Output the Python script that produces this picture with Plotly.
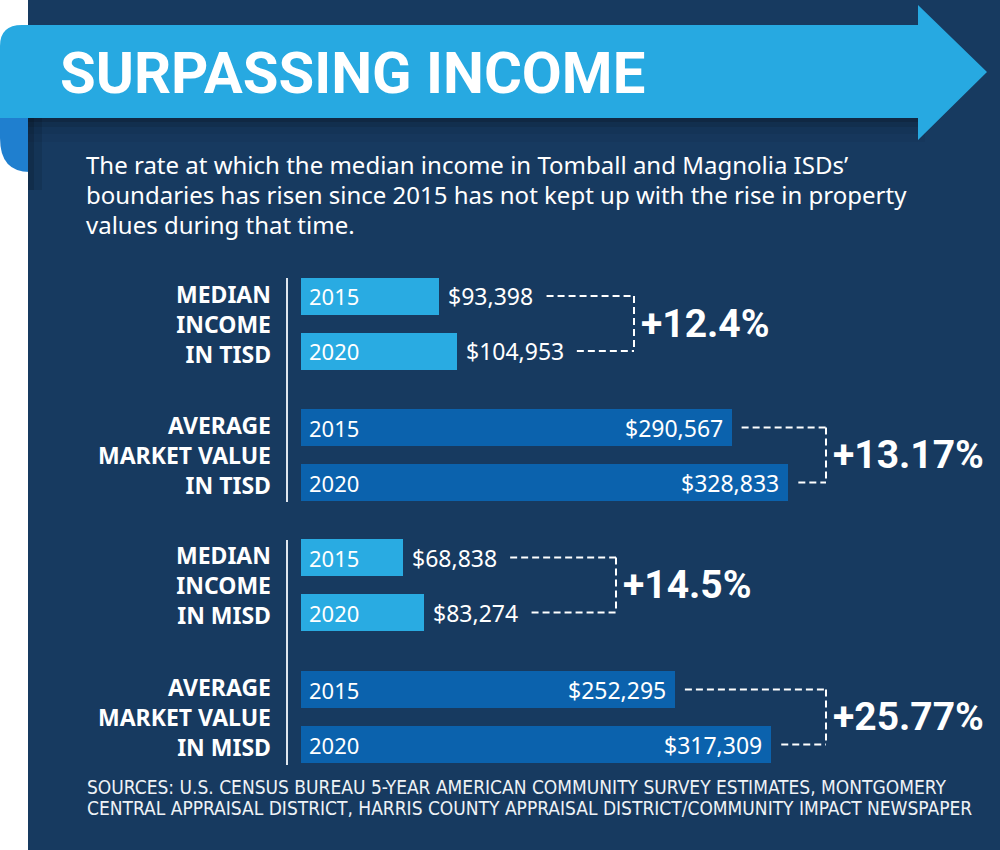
import plotly.graph_objects as go

# ---------------- data ----------------
group_labels = ["MEDIAN<br>INCOME<br>IN TISD",
                "AVERAGE<br>MARKET VALUE<br>IN TISD",
                "MEDIAN<br>INCOME<br>IN MISD",
                "AVERAGE<br>MARKET VALUE<br>IN MISD"]
group_kind = ["income", "market", "income", "market"]
years = ["2015", "2020"]
values_2015 = [93398, 290567, 68838, 252295]
values_2020 = [104953, 328833, 83274, 317309]
pct_change = ["+12.4%", "+13.17%", "+14.5%", "+25.77%"]

title_text = "SURPASSING INCOME"
subtitle_lines = ["The rate at which the median income in Tomball and Magnolia ISDs’",
                  "boundaries has risen since 2015 has not kept up with the rise in property",
                  "values during that time."]
source_lines = ["SOURCES: U.S. CENSUS BUREAU 5-YEAR AMERICAN COMMUNITY SURVEY ESTIMATES, MONTGOMERY",
                "CENTRAL APPRAISAL DISTRICT, HARRIS COUNTY APPRAISAL DISTRICT/COMMUNITY IMPACT NEWSPAPER"]

# ---------------- layout / style ----------------
W, H = 1000, 850
NAVY = "#173a60"
LIGHT = "#29abe2"
DARK = "#0b62ad"
BAND = "#27a9e1"
CURL = "#1f7fcf"
BODY_FONT = "Noto Sans"
HEAD_FONT = "Roboto"
SRC_FONT = ("Noto Sans ExtraCondensed, Noto Sans Condensed, Liberation Sans Narrow, "
            "DejaVu Sans Condensed, Roboto Condensed, sans-serif")

X0_PX = 301.0          # pixel where value 0 sits
SCALE = 0.001482       # pixels per dollar
group_center_px = [323.5, 455.1, 585.1, 717.1]
ROW_STEP = 55.0
bracket_px = [634, 826, 616, 826]
sep_lines_px = [(278, 502), (540, 765)]
SEP_X = 287


def px2x(p):
    return (p - X0_PX) / SCALE


def xp(x):
    return x / W


def yp(y):
    return 1 - y / H


def path(cmds):
    out = []
    for c in cmds:
        if isinstance(c, str):
            out.append(c)
        else:
            out.append(f"{xp(c[0]):.5f},{yp(c[1]):.5f}")
    return " ".join(out)


def label_width(s, size):
    # approximate advance width of a money label in the body font
    w = 0.0
    for ch in s:
        w += 0.27 if ch == "," else 0.572
    return w * size


fig = go.Figure()
shapes = []
annotations = []

# background panel + ribbon
shapes.append(dict(type="path", xref="paper", yref="paper", layer="below", line_width=0,
                   fillcolor=CURL,
                   path=path(["M", (30, 100), "L", (30, 172), "L", (30, 172),
                              "Q", (0, 172), (0, 138), "L", (0, 100), "Z"])))
shapes.append(dict(type="rect", xref="paper", yref="paper", layer="below", line_width=0,
                   fillcolor=NAVY, x0=xp(28), x1=1, y0=0, y1=1))
# soft shadow below ribbon
for (a, b, op) in [(118, 122, 0.30), (122, 127, 0.18), (127, 134, 0.09), (134, 142, 0.04)]:
    shapes.append(dict(type="rect", xref="paper", yref="paper", layer="below", line_width=0,
                       fillcolor=f"rgba(0,0,0,{op})", x0=xp(28), x1=xp(925), y0=yp(b), y1=yp(a)))
for (a, b, op) in [(28, 34, 0.22), (34, 42, 0.10)]:
    shapes.append(dict(type="rect", xref="paper", yref="paper", layer="below", line_width=0,
                       fillcolor=f"rgba(0,0,0,{op})", x0=xp(a), x1=xp(b), y0=yp(190), y1=yp(118)))
shapes.append(dict(type="path", xref="paper", yref="paper", layer="below", line_width=0,
                   fillcolor=BAND,
                   path=path(["M", (0, 46), "Q", (0, 25), (22, 25), "L", (918, 25), "L", (918, 5),
                              "L", (987, 72), "L", (918, 140), "L", (918, 118), "L", (0, 118), "Z"])))

# separators
for (a, b) in sep_lines_px:
    shapes.append(dict(type="line", xref="paper", yref="paper", layer="below",
                       x0=xp(SEP_X), x1=xp(SEP_X), y0=yp(a), y1=yp(b),
                       line=dict(color="#dfe6ee", width=2)))

layout_axes = {}
for g in range(4):
    yname = "y" if g == 0 else f"y{g + 1}"
    ykey = "yaxis" if g == 0 else f"yaxis{g + 1}"
    c = group_center_px[g]
    layout_axes[ykey] = dict(domain=[yp(c + ROW_STEP), yp(c - ROW_STEP)], type="category",
                             categoryorder="array", categoryarray=years,
                             range=[1.5, -0.5], visible=False, fixedrange=True, anchor="x")
    color = LIGHT if group_kind[g] == "income" else DARK
    vals = [values_2015[g], values_2020[g]]
    fig.add_trace(go.Bar(y=years, x=vals, orientation="h", xaxis="x", yaxis=yname,
                         marker=dict(color=color, line_width=0), width=0.665,
                         hoverinfo="skip", showlegend=False))

    # group label
    annotations.append(dict(xref="paper", yref="paper", x=xp(273), y=yp(c),
                            xanchor="right", yanchor="middle", align="right",
                            text=group_labels[g], showarrow=False,
                            font=dict(family=BODY_FONT, size=23, color="white", weight="bold")))
    starts = []
    for i, (yr, v) in enumerate(zip(years, vals)):
        annotations.append(dict(xref="x", yref=yname, x=0, y=i, xanchor="left", yanchor="middle",
                                xshift=6, text=yr, showarrow=False,
                                font=dict(family=BODY_FONT, size=22, color="white")))
        label = f"${v:,}"
        end_px = X0_PX + v * SCALE
        if group_kind[g] == "income":
            annotations.append(dict(xref="x", yref=yname, x=v, y=i, xanchor="left", yanchor="middle",
                                    xshift=7, text=label, showarrow=False,
                                    font=dict(family=BODY_FONT, size=23, color="white")))
            starts.append(end_px + 10 + label_width(label, 23) + 12)
        else:
            annotations.append(dict(xref="x", yref=yname, x=v, y=i, xanchor="right", yanchor="middle",
                                    xshift=-7, text=label, showarrow=False,
                                    font=dict(family=BODY_FONT, size=23, color="white")))
            starts.append(end_px + 10)
    bx = px2x(bracket_px[g])
    dash_line = dict(color="white", width=2, dash="7px,4px")
    for i in range(2):
        shapes.append(dict(type="line", xref="x", yref=yname, x0=px2x(starts[i]), x1=bx,
                           y0=i, y1=i, line=dash_line))
    shapes.append(dict(type="line", xref="x", yref=yname, x0=bx, x1=bx, y0=0, y1=1, line=dash_line))
    annotations.append(dict(xref="x", yref=yname, x=bx, y=0.5, xanchor="left", yanchor="middle",
                            xshift=5, yshift=0, text=pct_change[g], showarrow=False,
                            font=dict(family=HEAD_FONT, size=39, color="white", weight="bold")))

# title / subtitle / sources
annotations.append(dict(xref="paper", yref="paper", x=xp(58), y=yp(73), xanchor="left", yanchor="middle",
                        text=title_text, showarrow=False,
                        font=dict(family=HEAD_FONT, size=58, color="white", weight="bold")))
for i, line in enumerate(subtitle_lines):
    annotations.append(dict(xref="paper", yref="paper", x=xp(84), y=yp(165 + 29.5 * i),
                            xanchor="left", yanchor="middle", text=line, showarrow=False,
                            font=dict(family=BODY_FONT, size=24, color="white")))
for i, line in enumerate(source_lines):
    annotations.append(dict(xref="paper", yref="paper", x=xp(85), y=yp(787 + 21 * i),
                            xanchor="left", yanchor="middle", text=line, showarrow=False,
                            font=dict(family=SRC_FONT, size=19, color="#eef2f6")))

fig.update_layout(
    width=W, height=H, margin=dict(l=0, r=0, t=0, b=0),
    paper_bgcolor="white", plot_bgcolor="rgba(0,0,0,0)",
    xaxis=dict(domain=[0, 1], range=[px2x(0), px2x(W)], visible=False, fixedrange=True, anchor="y"),
    shapes=shapes, annotations=annotations, showlegend=False, bargap=0,
    **layout_axes,
)

fig.write_html("out.html", config={"displayModeBar": False},
               post_script="document.body.style.margin='0';document.body.style.padding='0';")
